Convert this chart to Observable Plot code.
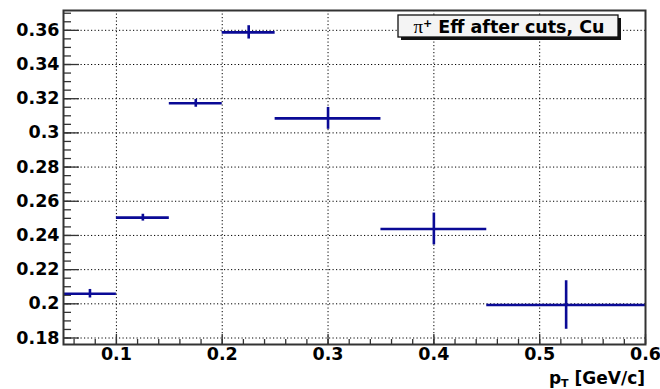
<!DOCTYPE html>
<html><head><meta charset="utf-8">
<script src="https://cdn.jsdelivr.net/npm/d3@7"></script>
<script src="https://cdn.jsdelivr.net/npm/@observablehq/plot@0.6"></script>
<style>body{margin:0;background:#fff}</style>
</head><body><div id="chart"></div>
<script>
// pT bins (GeV/c)
const binLow    = [0.05, 0.10, 0.15, 0.20, 0.25, 0.35, 0.45];
const binHigh   = [0.10, 0.15, 0.20, 0.25, 0.35, 0.45, 0.60];
const binCenter = [0.075, 0.125, 0.175, 0.225, 0.30, 0.40, 0.525];
// pi+ efficiency after cuts, Cu
const efficiency = [0.2059, 0.2504, 0.3173, 0.3588, 0.3085, 0.2438, 0.1993];
const effError   = [0.0025, 0.0020, 0.0023, 0.0039, 0.0064, 0.0093, 0.0142];
// axis ticks
const xTicks = [0.1, 0.2, 0.3, 0.4, 0.5, 0.6];
const xTickLabels = ["0.1", "0.2", "0.3", "0.4", "0.5", "0.6"];
const yTicks = [0.18, 0.20, 0.22, 0.24, 0.26, 0.28, 0.30, 0.32, 0.34, 0.36];
const yTickLabels = ["0.18", "0.2", "0.22", "0.24", "0.26", "0.28", "0.3", "0.32", "0.34", "0.36"];
const xMinor = d3.range(3, 31).map(k => k * 0.02);
const yMinor = d3.range(36, 75).map(k => k * 0.005);
const legendText = "Eff after cuts, Cu";
const xTitle = "[GeV/c]";

const rows = binCenter.map((c, i) => ({
  c, lo: binLow[i], hi: binHigh[i], y: efficiency[i], e: effError[i]
}));

const blue = "#0a0a96";
const axisColor = "#333";
const font = "'DejaVu Sans', sans-serif";

const chart = Plot.plot({
  width: 660,
  height: 389,
  marginLeft: 63,
  marginRight: 15,
  marginTop: 10,
  marginBottom: 45,
  style: {fontFamily: font, fontWeight: "bold", fontSize: "17.5px", color: "#000", background: "#fff"},
  x: {domain: [0.05, 0.6], label: null},
  y: {domain: [0.1762, 0.3716], label: null},
  marks: [
    Plot.gridX(xTicks, {stroke: "#000", strokeOpacity: 1, strokeDasharray: "1.2,2.3", strokeWidth: 1}),
    Plot.gridY(yTicks, {stroke: "#000", strokeOpacity: 1, strokeDasharray: "1.2,2.3", strokeWidth: 1}),
    // inward ticks
    Plot.axisY({ticks: yMinor, tickSize: 8, insetLeft: 8, tickFormat: () => "", stroke: axisColor, strokeWidth: 1.3, label: null}),
    Plot.axisY({ticks: yTicks, tickSize: 16, insetLeft: 16, tickFormat: () => "", stroke: axisColor, strokeWidth: 1.3, label: null}),
    Plot.axisX({ticks: xMinor, tickSize: 5, insetBottom: 5, tickFormat: () => "", stroke: axisColor, strokeWidth: 1.3, label: null}),
    Plot.axisX({ticks: xTicks, tickSize: 10, insetBottom: 10, tickFormat: () => "", stroke: axisColor, strokeWidth: 1.3, label: null}),
    // tick labels
    Plot.axisY({ticks: yTicks, tickSize: 0, tickPadding: 4, tickFormat: (d, i) => yTickLabels[i], fontSize: 17.5, fontWeight: "bold", fill: "#000", label: null}),
    Plot.axisX({ticks: xTicks, tickSize: 0, tickPadding: 3, tickFormat: (d, i) => xTickLabels[i], fontSize: 17.5, fontWeight: "bold", fill: "#000", label: null}),
    // data: bin widths and statistical errors
    Plot.ruleY(rows, {y: "y", x1: "lo", x2: "hi", stroke: blue, strokeWidth: 2.6}),
    Plot.ruleX(rows, {x: "c", y1: d => d.y - d.e, y2: d => d.y + d.e, stroke: blue, strokeWidth: 2.6}),
    Plot.frame({stroke: axisColor, strokeWidth: 2})
  ]
});

const svg = d3.select(chart);
// legend box
const lg = svg.append("g");
lg.append("rect").attr("x", 401).attr("y", 18).attr("width", 220).attr("height", 22).attr("fill", "#111");
lg.append("rect").attr("x", 398).attr("y", 15).attr("width", 220).attr("height", 22).attr("fill", "#f4f4f4").attr("stroke", "#111").attr("stroke-width", 1.3);
const lt = lg.append("text").attr("x", 509).attr("y", 32.5).attr("text-anchor", "middle")
  .style("font-family", font).style("font-weight", "bold").style("font-size", "17.5px").attr("fill", "#000");
lt.append("tspan").text("π").style("font-family", "'Liberation Serif', serif").style("font-weight", "normal").style("font-size", "19px");
lt.append("tspan").text("+").attr("dy", -6).style("font-size", "11px");
lt.append("tspan").text(" " + legendText).attr("dy", 6);

// x axis title
const xt = svg.append("text").attr("x", 645).attr("y", 384).attr("text-anchor", "end")
  .style("font-family", font).style("font-weight", "bold").style("font-size", "17px").attr("fill", "#000");
xt.append("tspan").text("p");
xt.append("tspan").text("T").attr("dy", 2.5).style("font-size", "11px");
xt.append("tspan").text(" " + xTitle).attr("dy", -2.5);

document.getElementById("chart").appendChild(chart);
</script>
</body></html>
